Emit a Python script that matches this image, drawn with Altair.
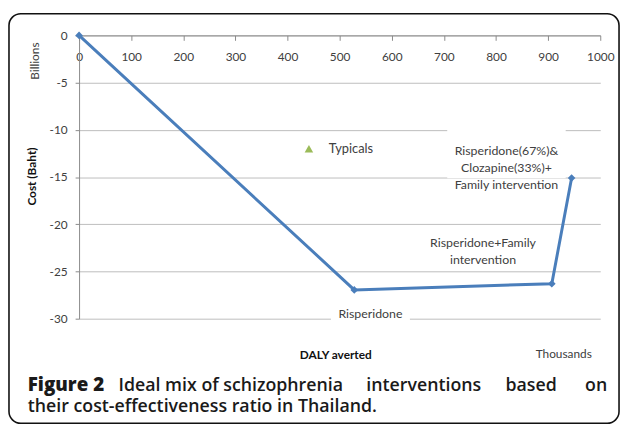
import altair as alt
import pandas as pd

# ---- data ----
interventions = ["Origin", "Risperidone", "Risperidone+Family intervention",
                 "Risperidone(67%)&Clozapine(33%)+Family intervention"]
daly_thousands = [0, 528, 907, 945]
cost_billions = [0.0, -26.95, -26.3, -15.1]

label_text = ["Risperidone", "Risperidone+Family\nintervention",
              "Risperidone(67%)&\nClozapine(33%)+\nFamily intervention"]
label_x = [559, 775, 820]
label_y = [-29.5, -22.0, -12.2]

typical_name = ["Typicals"]
typical_daly = [441]
typical_cost = [-12.0]

x_ticks = [0, 100, 200, 300, 400, 500, 600, 700, 800, 900, 1000]
y_ticks = [-30, -25, -20, -15, -10, -5, 0]

# caption line 1 is justified in the reference: split into pieces
caption_parts = ["Ideal mix of schizophrenia", "interventions", "based", "on"]
caption_part_px = [40, 291, 432, 535]
caption_part_align = ["left", "left", "left", "right"]

W, H = 528, 287
BLUE = "#4a7ebb"
GREEN = "#9bbb59"
GRID = "#bdbdbd"
AXIS = "#8a8a8a"
TXT = "#404040"
CAP = "#1a1a1a"

path_df = pd.DataFrame({"name": interventions, "daly": daly_thousands, "cost": cost_billions})
lab_df = pd.DataFrame({"text": label_text, "lx": label_x, "ly": label_y})
typ_df = pd.DataFrame({"name": typical_name, "daly": typical_daly, "cost": typical_cost})

xscale = alt.Scale(domain=[0, 1000], nice=False, zero=False)
yscale = alt.Scale(domain=[-30, 0], nice=False, zero=False)

x_axis = alt.Axis(orient="bottom", offset=-H, values=x_ticks, tickSize=5, labelPadding=11,
                  domainColor=AXIS, tickColor=AXIS, grid=False, title=None,
                  labelFont="Lato", labelFontSize=12, labelColor=TXT,
                  labelExpr="datum.value + ''",
                  labelFlush=False, labelOverlap=False)
y_axis = alt.Axis(orient="left", values=y_ticks, tickSize=4, labelPadding=8,
                  domainColor=AXIS, tickColor=AXIS, grid=True, gridColor=GRID,
                  title=None, labelFont="Lato", labelFontSize=12, labelColor=TXT,
                  labelExpr="datum.value + ''",
                  labelOverlap=False)

X = alt.X("daly:Q", scale=xscale, axis=x_axis)
Y = alt.Y("cost:Q", scale=yscale, axis=y_axis)

frame = alt.Chart(pd.DataFrame({"k": [0]})).mark_rect(
    fillOpacity=0, stroke="#111", strokeWidth=1.6, cornerRadius=12
).encode(x=alt.value(-71), x2=alt.value(547), y=alt.value(-22), y2=alt.value(393))

bg1 = alt.Chart(lab_df.iloc[[0]]).mark_point(
    shape="M-40,-8H40V8H-40Z", size=4, filled=True, color="white", opacity=1, strokeWidth=0
).encode(x=alt.X("lx:Q", scale=xscale), y=alt.Y("ly:Q", scale=yscale))
bg3 = alt.Chart(lab_df.iloc[[2]]).mark_point(
    shape="M-60,-28H60V28H-60Z", size=4, filled=True, color="white", opacity=1, strokeWidth=0
).encode(x=alt.X("lx:Q", scale=xscale), y=alt.Y("ly:Q", scale=yscale))

line = alt.Chart(path_df).mark_line(color=BLUE, strokeWidth=3).encode(x=X, y=Y)
pts = alt.Chart(path_df).mark_point(shape="diamond", filled=True, size=60, color=BLUE, opacity=1).encode(
    x=alt.X("daly:Q", scale=xscale), y=alt.Y("cost:Q", scale=yscale))

tri = alt.Chart(typ_df).mark_point(shape="triangle-up", filled=True, size=75, color=GREEN, opacity=1).encode(
    x=alt.X("daly:Q", scale=xscale), y=alt.Y("cost:Q", scale=yscale))
tri_txt = alt.Chart(typ_df).mark_text(align="left", baseline="middle", dx=20, font="Lato",
                                      fontSize=13, color=TXT).encode(
    x=alt.X("daly:Q", scale=xscale), y=alt.Y("cost:Q", scale=yscale), text="name:N")

labels = alt.Chart(lab_df).mark_text(align="center", baseline="middle", font="Lato", fontSize=12.5,
                                     color=TXT, lineBreak="\n", lineHeight=17.5).encode(
    x=alt.X("lx:Q", scale=xscale), y=alt.Y("ly:Q", scale=yscale), text="text:N")

one = pd.DataFrame({"k": [0]})

def txt(s, x, y, **kw):
    return alt.Chart(one).mark_text(**kw).encode(x=alt.value(x), y=alt.value(y), text=alt.value(s))

billions = txt("Billions", -45, 26, angle=270, align="center", baseline="middle",
               font="Lato", fontSize=12, color=TXT)
cost_t = txt("Cost (Baht)", -48, 143, angle=270, align="center", baseline="middle",
             font="Lato", fontSize=12, fontWeight="bold", color="#111")
daly_t = txt("DALY averted", 260, 324, align="center", baseline="middle",
             font="Lato", fontSize=12, fontWeight="bold", color="#111")
thous_t = txt("Thousands", 491, 323, align="center", baseline="middle",
              font="Lato", fontSize=12, color=TXT)

CAPSIZE = 18
cap1a = txt("Figure 2", -52, 360, align="left", baseline="alphabetic", font="Open Sans",
            fontSize=19, fontWeight=800, color=CAP)
cap_parts = [txt(w, px, 360, align=al, baseline="alphabetic", font="Open Sans",
                 fontSize=CAPSIZE, fontWeight=600, color=CAP)
             for w, px, al in zip(caption_parts, caption_part_px, caption_part_align)]
cap2 = txt("their cost-effectiveness ratio in Thailand.", -52, 382, align="left", baseline="alphabetic",
           font="Open Sans", fontSize=CAPSIZE, fontWeight=600, color=CAP)

chart = alt.layer(
    frame, bg1, bg3, line, pts, tri, tri_txt, labels,
    billions, cost_t, daly_t, thous_t, cap1a, *cap_parts, cap2
).properties(
    width=W, height=H,
    autosize=alt.AutoSizeParams(type="none"),
    padding={"left": 72, "top": 25, "right": 21, "bottom": 108},
).configure_view(stroke=None)

chart.save("out.html", embed_options={"renderer": "svg", "actions": False})
